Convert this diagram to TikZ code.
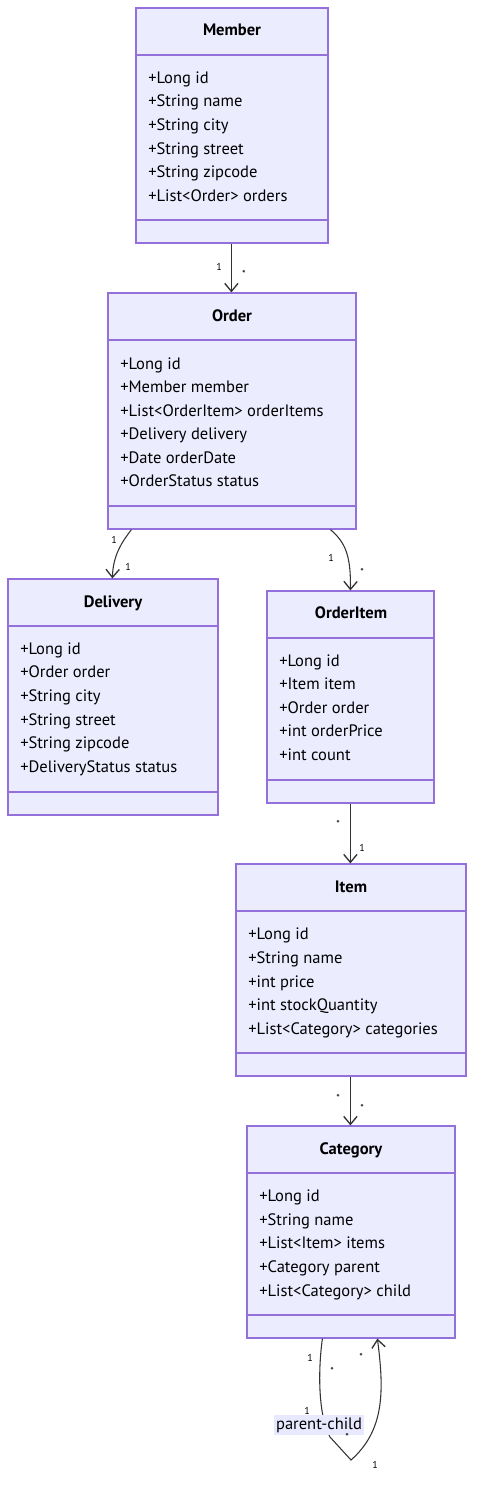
\documentclass[tikz,border=0pt]{standalone}
\usepackage{fontspec}
\setmainfont{PT Sans}
\usetikzlibrary{fit,calc,arrows.meta}
\definecolor{boxfill}{HTML}{ECECFF}
\definecolor{boxdraw}{HTML}{9370DB}
\definecolor{linec}{HTML}{333333}
\definecolor{lblbg}{HTML}{E8E8FF}
\tikzset{
  cbox/.style={draw=boxdraw, fill=boxfill, line width=0.9pt, inner sep=0pt, rectangle},
  divider/.style={draw=boxdraw, line width=0.9pt},
  ctitle/.style={font=\bfseries\fontsize{12.4}{14}\selectfont, text=black, inner sep=0pt, text height=8.8pt, text depth=2.6pt},
  attr/.style={font=\fontsize{12.4}{14}\selectfont, text=black, anchor=west, inner sep=0pt, text height=8.8pt, text depth=2.6pt},
  card/.style={font=\fontsize{7.5}{9}\selectfont, text=black, inner sep=0pt},
  assoc/.style={draw=linec, line width=0.8pt, -{Straight Barb[length=6pt,width=10pt,line width=1pt]}},
  elabel/.style={fill=lblbg, font=\fontsize{12.4}{14}\selectfont, text=black, inner sep=1.5pt, text height=8.8pt, text depth=2.6pt},
}
\begin{document}
\begin{tikzpicture}[x=0.75pt,y=-0.75pt]
\useasboundingbox (0,0) rectangle (482,1501);
% Member
\node[cbox, fit={(136,8)(328,243)}] (member) {};
\draw[divider] (136,55) -- (328,55);
\draw[divider] (136,220) -- (328,220);
\node[ctitle] (memberT) at (232,31) {Member};
\node[attr] (m1) at (148,79) {+Long id};
\node[attr] (m2) at (148,102) {+String name};
\node[attr] (m3) at (148,126) {+String city};
\node[attr] (m4) at (148,150) {+String street};
\node[attr] (m5) at (148,173) {+String zipcode};
\node[attr] (m6) at (148,197) {+List<Order> orders};
% Order
\node[cbox, fit={(108,293)(356,529)}] (order) {};
\draw[divider] (108,340) -- (356,340);
\draw[divider] (108,506) -- (356,506);
\node[ctitle] (orderT) at (232,317) {Order};
\node[attr] (o1) at (120,365) {+Long id};
\node[attr] (o2) at (120,388) {+Member member};
\node[attr] (o3) at (120,412) {+List<OrderItem> orderItems};
\node[attr] (o4) at (120,435) {+Delivery delivery};
\node[attr] (o5) at (120,459) {+Date orderDate};
\node[attr] (o6) at (120,482) {+OrderStatus status};
% Delivery
\node[cbox, fit={(8,579)(218,815)}] (delivery) {};
\draw[divider] (8,626) -- (218,626);
\draw[divider] (8,792) -- (218,792);
\node[ctitle] (deliveryT) at (113,603) {Delivery};
\node[attr] (d1) at (20,650) {+Long id};
\node[attr] (d2) at (20,673) {+Order order};
\node[attr] (d3) at (20,697) {+String city};
\node[attr] (d4) at (20,721) {+String street};
\node[attr] (d5) at (20,744) {+String zipcode};
\node[attr] (d6) at (20,768) {+DeliveryStatus status};
% OrderItem
\node[cbox, fit={(267,591)(434,803)}] (orderitem) {};
\draw[divider] (267,638) -- (434,638);
\draw[divider] (267,780) -- (434,780);
\node[ctitle] (orderitemT) at (351,614) {OrderItem};
\node[attr] (oi1) at (279,662) {+Long id};
\node[attr] (oi2) at (279,685) {+Item item};
\node[attr] (oi3) at (279,709) {+Order order};
\node[attr] (oi4) at (279,732) {+int orderPrice};
\node[attr] (oi5) at (279,756) {+int count};
% Item
\node[cbox, fit={(236,864)(466,1076)}] (item) {};
\draw[divider] (236,911) -- (466,911);
\draw[divider] (236,1053) -- (466,1053);
\node[ctitle] (itemT) at (351,888) {Item};
\node[attr] (i1) at (248,935) {+Long id};
\node[attr] (i2) at (248,959) {+String name};
\node[attr] (i3) at (248,983) {+int price};
\node[attr] (i4) at (248,1006) {+int stockQuantity};
\node[attr] (i5) at (248,1030) {+List<Category> categories};
% Category
\node[cbox, fit={(247,1126)(455,1338)}] (category) {};
\draw[divider] (247,1173) -- (455,1173);
\draw[divider] (247,1315) -- (455,1315);
\node[ctitle] (categoryT) at (351,1150) {Category};
\node[attr] (c1) at (259,1197) {+Long id};
\node[attr] (c2) at (259,1221) {+String name};
\node[attr] (c3) at (259,1244) {+List<Item> items};
\node[attr] (c4) at (259,1268) {+Category parent};
\node[attr] (c5) at (259,1292) {+List<Category> child};
% Connectors
\draw[assoc] ($(member.south west)+(96,0)$) -- ($(order.north west)+(124,0)$);
\draw[assoc] ($(order.south west)+(24,0)$) .. controls (122,542) and (113,555) .. ($(delivery.north west)+(105,0)$);
\draw[assoc] ($(order.south west)+(223,0)$) .. controls (345,542) and (351,555) .. ($(orderitem.north west)+(84,0)$);
\draw[assoc] ($(orderitem.south west)+(84,0)$) -- ($(item.north west)+(115,0)$);
\draw[assoc] ($(item.south west)+(115,0)$) -- ($(category.north west)+(104,0)$);
\draw[assoc] ($(category.south west)+(76,0)$) .. controls (318,1370) and (318,1415) .. (330,1437)
   -- (351,1460) .. controls (385,1430) and (384,1390) .. ($(category.south west)+(131,0)$);
\node[elabel] (pc) at (319,1425) {parent-child};
% cardinalities
\node[card] at (219,267) {1};
\node[card] at (244,274) {*};
\node[card] at (114,540) {1};
\node[card] at (128,567) {1};
\node[card] at (331,558) {1};
\node[card] at (362,572) {*};
\node[card] at (338,824) {*};
\node[card] at (362,848) {1};
\node[card] at (338,1098) {*};
\node[card] at (362,1108) {*};
\node[card] at (310,1358) {1};
\node[card] at (332,1371) {*};
\node[card] at (361,1357) {*};
\node[card] at (307,1411) {1};
\node[card] at (347,1437) {*};
\node[card] at (375,1465) {1};
\end{tikzpicture}
\end{document}
